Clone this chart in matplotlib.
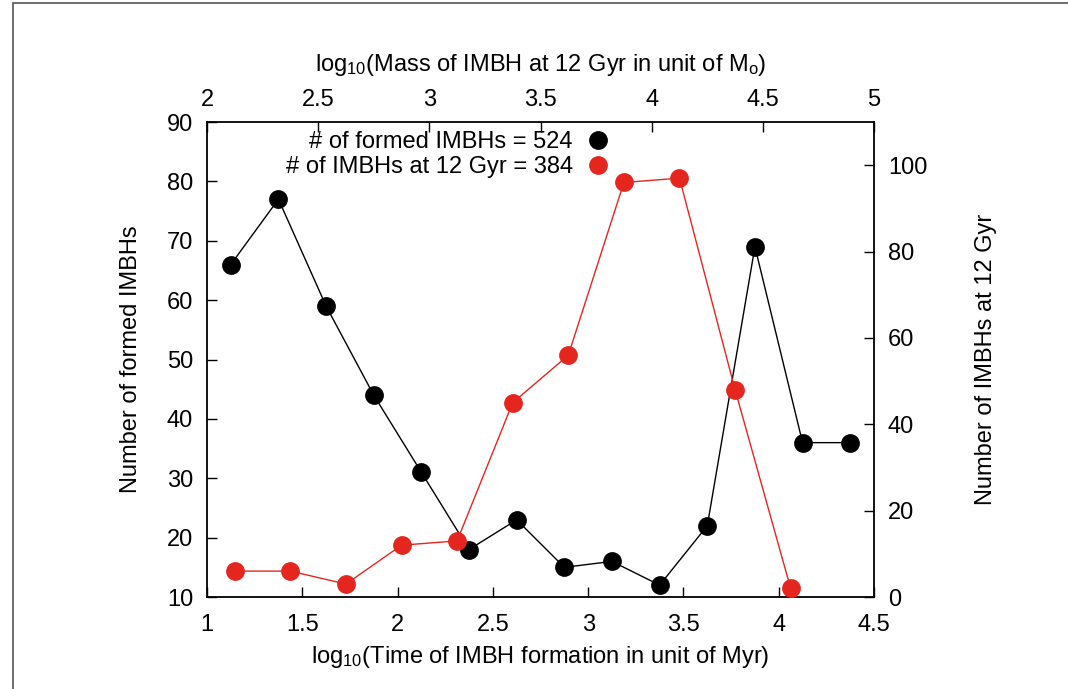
import matplotlib
matplotlib.use("Agg")
from matplotlib import pyplot as plt
from matplotlib.lines import Line2D
from matplotlib.patches import Rectangle

plt.rcParams['font.family'] = ['Liberation Sans', 'DejaVu Sans']
plt.rcParams['mathtext.fontset'] = 'custom'
plt.rcParams['mathtext.rm'] = 'Liberation Sans'
plt.rcParams['mathtext.it'] = 'Liberation Sans'

# formed IMBHs vs log10(formation time / Myr)
time_x = [1.125, 1.375, 1.625, 1.875, 2.125, 2.375, 2.625, 2.875,
          3.125, 3.375, 3.625, 3.875, 4.125, 4.375]
formed_n = [66, 77, 59, 44, 31, 18, 23, 15, 16, 12, 22, 69, 36, 36]

# IMBHs at 12 Gyr vs log10(mass / Msun)
mass_x = [2.125, 2.375, 2.625, 2.875, 3.125, 3.375, 3.625, 3.875, 4.125, 4.375, 4.625]
survive_n = [6, 6, 3, 12, 13, 45, 56, 96, 97, 48, 2]

black = '#000000'
red = '#e5261f'
fs = 17

fig = plt.figure(figsize=(10.68, 6.89), dpi=100)
rect = [0.1938, 0.1335, 0.6246, 0.6894]

ax = fig.add_axes(rect)
ax.plot(time_x, formed_n, color=black, lw=1, marker='o', ms=12.5, zorder=3)
ax.set_xlim(1, 4.5)
ax.set_ylim(10, 90)
ax.set_xticks([1, 1.5, 2, 2.5, 3, 3.5, 4, 4.5])
ax.set_xticklabels(['1', '1.5', '2', '2.5', '3', '3.5', '4', '4.5'])
ax.set_yticks(range(10, 91, 10))
ax.tick_params(direction='in', labelsize=fs, length=7, width=1)
ax.tick_params(axis='x', pad=12)
ax.tick_params(axis='y', pad=10)
ax.set_xlabel(r'log$_{10}$(Time of IMBH formation in unit of Myr)', fontsize=fs, labelpad=6)
ax.set_ylabel('Number of formed IMBHs', fontsize=fs, labelpad=18)
for s in ax.spines.values():
    s.set_linewidth(1.3)

ax2 = fig.add_axes(rect, frameon=False)
ax2.plot(mass_x, survive_n, color=red, lw=1, marker='o', ms=12.5, zorder=3)
ax2.set_xlim(2, 5)
ax2.set_ylim(0, 110)
ax2.set_xticks([2, 2.5, 3, 3.5, 4, 4.5, 5])
ax2.set_xticklabels(['2', '2.5', '3', '3.5', '4', '4.5', '5'])
ax2.set_yticks(range(0, 101, 20))
ax2.xaxis.tick_top()
ax2.xaxis.set_label_position('top')
ax2.yaxis.tick_right()
ax2.yaxis.set_label_position('right')
ax2.tick_params(direction='in', labelsize=fs, length=7, width=1)
ax2.tick_params(axis='x', pad=8)
ax2.tick_params(axis='y', pad=10)
ax2.set_xlabel(r'log$_{10}$(Mass of IMBH at 12 Gyr in unit of M$_{\rm o}$)', fontsize=fs, labelpad=13)
ax2.set_ylabel('Number of IMBHs at 12 Gyr', fontsize=fs, labelpad=34)

handles = [Line2D([], [], color=black, marker='o', ls='none', ms=12.5),
           Line2D([], [], color=red, marker='o', ls='none', ms=12.5)]
ax2.legend(handles, ['# of formed IMBHs = 524', '# of IMBHs at 12 Gyr = 384'],
           loc='upper right', bbox_to_anchor=(0.635, 1.02), markerfirst=False,
           frameon=False, fontsize=fs, handlelength=1.2, handletextpad=0.45,
           labelspacing=0.12, borderpad=0.3)

fig.patches.append(Rectangle((13 / 1068, -0.01), 1.02, 1 - 3 / 689 + 0.01,
                             transform=fig.transFigure, fill=False,
                             edgecolor='#555555', lw=1.2))

fig.savefig('out.png', dpi=100)
